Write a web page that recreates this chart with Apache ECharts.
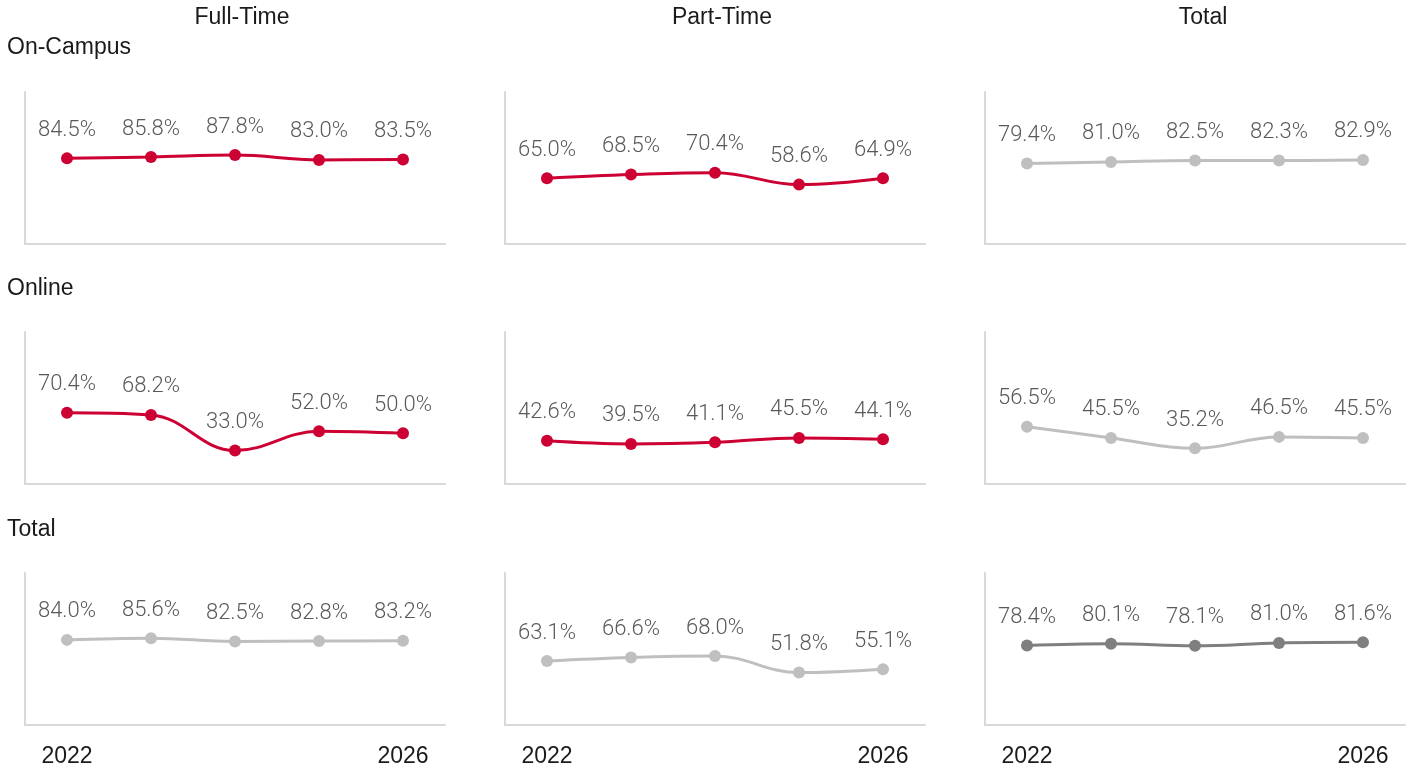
<!DOCTYPE html>
<html>
<head>
<meta charset="utf-8">
<script src="https://cdn.jsdelivr.net/npm/echarts@6/dist/echarts.min.js"></script>
<style>
  html, body { margin: 0; padding: 0; background: #fff; }
  #chart { width: 1408px; height: 776px; }
</style>
</head>
<body>
<div id="chart"></div>
<script>
// Retention rates by delivery mode (rows) and enrollment status (columns)
const years = ['2022', '2023', '2024', '2025', '2026'];
const columnTitles = ['Full-Time', 'Part-Time', 'Total'];
const rowTitles = ['On-Campus', 'Online', 'Total'];

const onCampusFullTime = [84.5, 85.8, 87.8, 83.0, 83.5];
const onCampusPartTime = [65.0, 68.5, 70.4, 58.6, 64.9];
const onCampusTotal    = [79.4, 81.0, 82.5, 82.3, 82.9];

const onlineFullTime = [70.4, 68.2, 33.0, 52.0, 50.0];
const onlinePartTime = [42.6, 39.5, 41.1, 45.5, 44.1];
const onlineTotal    = [56.5, 45.5, 35.2, 46.5, 45.5];

const totalFullTime = [84.0, 85.6, 82.5, 82.8, 83.2];
const totalPartTime = [63.1, 66.6, 68.0, 51.8, 55.1];
const totalTotal    = [78.4, 80.1, 78.1, 81.0, 81.6];

const RED = '#CC0033';
const LIGHT_GRAY = '#BFBFBF';
const DARK_GRAY = '#7F7F7F';

const panels = [
  [onCampusFullTime, onCampusPartTime, onCampusTotal],
  [onlineFullTime, onlinePartTime, onlineTotal],
  [totalFullTime, totalPartTime, totalTotal]
];
const panelColors = [
  [RED, RED, LIGHT_GRAY],
  [RED, RED, LIGHT_GRAY],
  [LIGHT_GRAY, LIGHT_GRAY, DARK_GRAY]
];

const gridLefts = [25, 505, 985];
const gridTops = [92, 332, 573];
const gridWidth = 420;
const gridHeight = 152;

const grids = [], xAxes = [], yAxes = [], series = [];
let idx = 0;
for (let r = 0; r < 3; r++) {
  for (let c = 0; c < 3; c++) {
    grids.push({ left: gridLefts[c], top: gridTops[r], width: gridWidth, height: gridHeight });
    xAxes.push({
      type: 'category',
      gridIndex: idx,
      data: years,
      boundaryGap: true,
      axisLine: { show: true, lineStyle: { color: '#D9D9D9', width: 2 } },
      axisTick: { show: false },
      axisLabel: {
        show: r === 2,
        interval: (i) => i === 0 || i === years.length - 1,
        margin: 20,
        fontSize: 23,
        color: '#1a1a1a',
        fontFamily: 'Liberation Sans, Arial, sans-serif'
      }
    });
    yAxes.push({
      type: 'value',
      gridIndex: idx,
      min: 0,
      max: 150,
      axisLine: { show: true, lineStyle: { color: '#D9D9D9', width: 2 } },
      axisTick: { show: false },
      axisLabel: { show: false },
      splitLine: { show: false }
    });
    const color = panelColors[r][c];
    series.push({
      type: 'line',
      xAxisIndex: idx,
      yAxisIndex: idx,
      data: panels[r][c],
      smooth: 0.4,
      symbol: 'circle',
      symbolSize: 12,
      lineStyle: { color: color, width: 3 },
      itemStyle: { color: color },
      label: {
        show: true,
        position: 'top',
        distance: 11,
        fontSize: 22,
        color: '#595959',
        fontFamily: 'Roboto, Liberation Sans, sans-serif',
        fontWeight: 300,
        formatter: (p) => p.value.toFixed(1) + '%'
      },
      emphasis: { disabled: true },
      animation: false
    });
    idx++;
  }
}

const textStyleBase = { fontSize: 23, fill: '#1a1a1a', fontFamily: 'Liberation Sans, Arial, sans-serif' };
const graphics = [];
const colCenters = [242, 722, 1203];
columnTitles.forEach((t, i) => {
  graphics.push({
    type: 'text', x: colCenters[i], y: 18,
    style: Object.assign({ text: t, textAlign: 'center', textVerticalAlign: 'middle' }, textStyleBase)
  });
});
const rowTitleY = [48, 289, 530];
rowTitles.forEach((t, i) => {
  graphics.push({
    type: 'text', x: 7, y: rowTitleY[i],
    style: Object.assign({ text: t, textAlign: 'left', textVerticalAlign: 'middle' }, textStyleBase)
  });
});

const chart = echarts.init(document.getElementById('chart'), null, { renderer: 'canvas' });
chart.setOption({
  backgroundColor: '#ffffff',
  animation: false,
  grid: grids,
  xAxis: xAxes,
  yAxis: yAxes,
  series: series,
  graphic: graphics
});
</script>
</body>
</html>
